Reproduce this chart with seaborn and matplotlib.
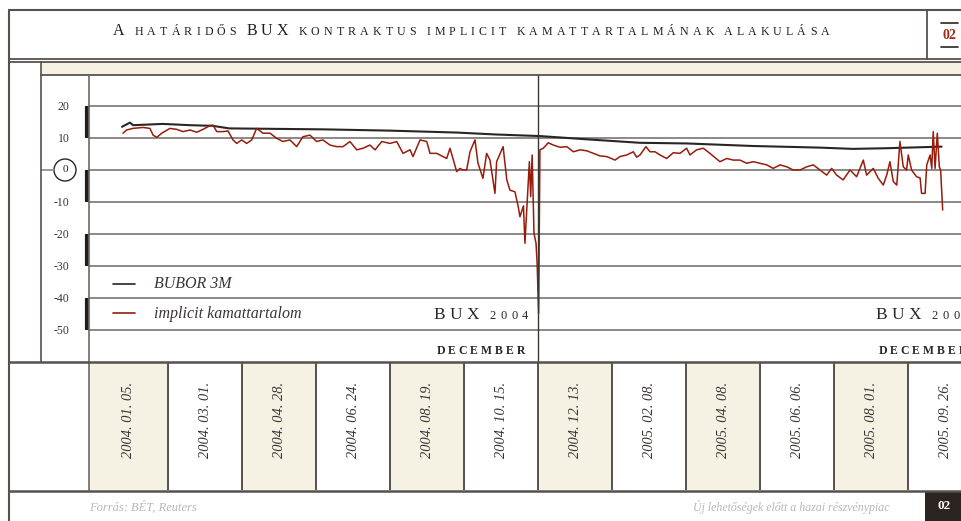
import numpy as np
import pandas as pd
import matplotlib
matplotlib.use('Agg')
import matplotlib.pyplot as plt
import matplotlib.transforms as mtrans
from matplotlib.lines import Line2D
from matplotlib.patches import Rectangle, Circle
import seaborn as sns

# ---- data (x = trading day since 2004.01.05, y = %) ----
TITLE = 'A határidős BUX kontraktus implicit kamattartalmának alakulása'
DATE_LABELS = ['2004. 01. 05.', '2004. 03. 01.', '2004. 04. 28.', '2004. 06. 24.',
               '2004. 08. 19.', '2004. 10. 15.', '2004. 12. 13.', '2005. 02. 08.',
               '2005. 04. 08.', '2005. 06. 06.', '2005. 08. 01.', '2005. 09. 26.']
Y_TICKS = [20, 10, 0, -10, -20, -30, -40, -50]
LEGEND_LABELS = ['BUBOR 3M', 'implicit kamattartalom']
EXPIRY_YEARS = ['2004', '2005']
EXPIRY_DAYS = [224.9, 463.8]

BUBOR_DAY = [0, 4.3, 6, 22, 37, 49, 58, 109, 145, 181, 202, 226, 251, 280, 305,
             341, 377, 395, 413, 431, 443]
BUBOR_VAL = [13.5, 14.8, 14.0, 14.4, 14.0, 13.8, 13.0, 12.7, 12.3, 11.7, 11.1, 10.6,
             9.6, 8.5, 8.3, 7.5, 7.0, 6.6, 6.8, 7.1, 7.3]

IMPL_DAY = [0.5, 2.5, 5.9, 11.4, 15.1, 16.8, 18.8, 21.5, 25.9, 29.6, 33.0, 36.8, 40.4,
            43.8, 47.6, 49.2, 51.2, 54.6, 57.3, 60.0, 62.0, 64.7, 67.4, 70.1, 72.8,
            76.2, 80.0, 83.6, 87.0, 90.8, 94.4, 97.8, 101.6, 105.2, 108.6, 112.4, 116.0,
            119.5, 123.2, 126.9, 130.3, 134.0, 136.8, 140.4, 144.9, 148.5, 151.9, 155.7,
            157.3, 161.1, 164.7, 166.5, 170.1, 173.5, 175.5, 177.3, 178.9, 180.9, 182.7,
            184.3, 186.3, 188.1, 190.8, 192.4, 195.1, 197.1, 198.9, 201.6, 202.5, 206.0,
            208.0, 209.7, 212.4, 214.2, 215.1, 217.0, 217.8, 220.2, 220.9, 221.7, 222.7,
            223.8, 224.4, 225.2, 225.9, 227.7, 230.4, 233.1, 236.8, 240.4, 244.0, 247.6,
            251.2, 254.8, 258.4, 262.0, 266.5, 269.2, 272.8, 276.4, 278.2, 280.0, 283.2,
            285.4, 288.1, 290.8, 294.4, 298.0, 301.6, 305.2, 307.0, 310.6, 314.2, 317.8,
            323.2, 326.9, 330.4, 334.0, 337.7, 341.2, 344.9, 348.5, 352.0, 355.7, 359.3,
            362.9, 366.5, 370.1, 373.7, 377.3, 380.9, 383.6, 386.3, 389.8, 393.5, 397.1,
            398.9, 400.7, 402.5, 406.1, 408.8, 411.5, 413.4, 415.1, 416.9, 418.8, 420.5,
            422.3, 424.1, 425.0, 426.8, 429.5, 431.4, 432.2, 434.1, 435.0, 436.8, 437.7,
            438.5, 439.5, 440.7, 441.8, 442.5, 443.6]
IMPL_VAL = [11.5, 12.5, 13.0, 13.3, 13.0, 10.9, 10.2, 11.5, 13.0, 12.7, 12.0, 12.5, 11.8,
            12.7, 13.9, 14.0, 12.0, 12.0, 12.2, 9.4, 8.3, 9.4, 8.3, 9.4, 13.0,
            11.5, 11.5, 9.9, 8.9, 9.4, 7.3, 10.4, 10.9, 8.9, 9.4, 7.8, 7.3,
            7.3, 8.9, 6.3, 6.8, 7.8, 6.3, 8.9, 8.3, 8.9, 5.2, 6.3,
            4.2, 9.4, 8.9, 5.2, 5.2, 4.2, 3.6, 6.8, 3.6, -0.5, 0.5,
            0.0, 0.0, 5.7, 9.4, 2.2, -2.6, 5.2, 3.1, -7.3, 2.6, 7.3,
            -3.1, -6.3, -6.8, -11.5, -14.6, -11.2, -22.9, 2.6, -8.3, 4.7, -19.8,
            -22.9, -29.2, -44.8, 6.3, 6.8, 8.5, 7.8, 7.1, 7.3, 5.7, 6.3,
            6.0, 5.2, 4.4, 4.2, 3.1, 4.2, 4.7, 5.7, 4.0, 4.7, 7.3,
            5.7, 5.7, 4.7, 3.6, 5.4, 5.2, 6.8, 4.7, 6.3, 6.8, 5.2,
            2.6, 3.6, 3.1, 3.1, 2.1, 2.6, 2.1, 1.6, 0.5, 1.6, 1.0,
            0.0, 0.0, 1.0, 1.6, 0.0, -1.6, 0.5, -1.6, -3.1, 0.0, -2.1,
            0.5, 3.1, -1.6, 0.5, -2.6, -4.7, -1.5, 2.6, -3.6, -4.7, 8.9,
            1.0, 0.0, 4.7, 0.0, -2.1, -2.5, -7.3, -7.3, 1.6, 4.7, 0.5,
            12.0, 0.5, 11.5, 1.0, 0.0, -12.5]

# ---- style ----
sns.set_style('white')
plt.rcParams['font.family'] = ['Liberation Serif', 'DejaVu Serif']

W, H = 962, 521
BEIGE = '#f5f1e3'
FRAME = '#57514e'
GRID = '#8c8885'
INK = '#2a2523'
RED = '#961c0c'

fig = plt.figure(figsize=(W / 100, H / 100), dpi=100)
fig.patch.set_facecolor('white')


def fx(x):
    return x / W


def fy(y):
    return 1 - y / H


def hline(y, x0, x1, color=FRAME, lw=1.2):
    fig.add_artist(Line2D([fx(x0), fx(x1)], [fy(y), fy(y)], color=color, lw=lw))


def vline(x, y0, y1, color=FRAME, lw=1.2):
    fig.add_artist(Line2D([fx(x), fx(x)], [fy(y0), fy(y1)], color=color, lw=lw))


def spaced(x, y, chars, track, gap, ha='left', color=INK, **kw):
    # draw letter-spaced text one glyph at a time
    r = fig.canvas.get_renderer()
    adv = []
    for ch, size in chars:
        if ch == ' ':
            adv.append(gap)
        else:
            t = fig.text(0, 0, ch, fontsize=size, **kw)
            adv.append(t.get_window_extent(r).width + track)
            t.remove()
    total = sum(adv) - track
    if ha == 'right':
        x = x - total
    for (ch, size), a in zip(chars, adv):
        if ch != ' ':
            fig.text(fx(x), fy(y), ch, fontsize=size, va='baseline', ha='left',
                     color=color, **kw)
        x += a


def smallcaps(s, big, small):
    return [(c.upper(), small if (c.islower() or c == ' ') else big) for c in s]


# ---- main plot ----
X0, X1 = (89 - 122) / 1.85, (962 - 122) / 1.85
ax = fig.add_axes([fx(89), fy(362), fx(962) - fx(89), (362 - 75) / H])
sns.lineplot(x=BUBOR_DAY, y=BUBOR_VAL, ax=ax, color='#2a2522', lw=1.5,
             estimator=None, sort=False)
sns.lineplot(x=IMPL_DAY, y=IMPL_VAL, ax=ax, color=RED, lw=1.1,
             estimator=None, sort=False)
ax.set_xlim(X0, X1)
ax.set_ylim(-60, (170 - 75) / 3.2)
ax.set_yticks(Y_TICKS)
ax.set_yticklabels(['' if v == 0 else str(v) for v in Y_TICKS])
ax.set_xticks([])
ax.tick_params(axis='y', length=0, pad=14, labelsize=8.5, labelcolor='#3a3533')
ax.grid(axis='y', color=GRID, lw=1.4)
ax.set_axisbelow(True)
for s in ax.spines.values():
    s.set_visible(False)
ax.set_xlabel('')
ax.set_ylabel('')
for d in EXPIRY_DAYS:
    ax.axvline(d, color='#3c3633', lw=1.0)

# thick marks on the axis
bt = mtrans.blended_transform_factory(ax.transAxes, ax.transData)
for a, b in zip(Y_TICKS[0::2], Y_TICKS[1::2]):
    ax.plot([-2 / 873, -2 / 873], [a, b], color='#231d1a', lw=3.0,
            transform=bt, clip_on=False, solid_capstyle='butt')

# circled zero
ident = mtrans.IdentityTransform()
fig.add_artist(Circle((65, H - 170), 11, transform=ident, fill=False,
                      edgecolor=INK, lw=1.0))
fig.text(fx(65), fy(170), '0', fontsize=8, ha='center', va='center', color=INK)
hline(170, 41, 54, color=GRID, lw=1.2)

# legend
for i, (lab, col) in enumerate(zip(LEGEND_LABELS, ['#2a2522', RED])):
    yy = 284 + i * 29
    fig.add_artist(Line2D([fx(113), fx(135)], [fy(yy), fy(yy)], color=col, lw=1.2))
    fig.text(fx(154), fy(yy + 4.5), lab, fontsize=11.5, style='italic',
             color='#3a3533', va='baseline')

# expiry labels (the 2005 one runs off the right edge, as in the original)
for yr, d in zip(EXPIRY_YEARS, EXPIRY_DAYS):
    px = 122 + 1.85 * d
    spaced(px - 10, 319, [(c, 12.5) for c in 'BUX'] + [(' ', 9)] + [(c, 9) for c in yr],
           track=4.5, gap=6, ha='right')
    spaced(px - 13, 354, [(c, 8.5) for c in 'DECEMBER'], track=3.0, gap=6,
           ha='right', fontweight='bold')

# ---- date strip ----
ax2 = fig.add_axes([fx(89), fy(490), fx(962) - fx(89), 128 / H])
ax2.set_xlim(X0, X1)
ax2.set_ylim(0, 1)
ax2.axis('off')
for k, lab in enumerate(DATE_LABELS):
    left = X0 if k == 0 else 24.9 + 40 * (k - 1)
    right = 24.9 + 40 * k
    if k % 2 == 0:
        ax2.axvspan(left, right, color=BEIGE, lw=0)
    ax2.axvline(right, color='#3a3330', lw=1.2)
    ax2.text((left + right) / 2, 0.547, lab, rotation=90, ha='center', va='center',
             fontsize=10.4, style='italic', color='#3a3533')

# ---- frame ----
hline(10, 9, 962, lw=1.5)
vline(9, 10, 521, lw=1.5)
hline(59, 9, 962, lw=1.3)
hline(61.5, 9, 962, lw=1.3)
vline(927, 10, 59, lw=1.3)
fig.add_artist(Rectangle((fx(41), fy(74)), fx(962) - fx(41), 12 / H, color=BEIGE, lw=0))
hline(74.5, 41, 962, lw=1.3)
vline(41, 61.5, 362, lw=1.2)
vline(89, 74.5, 490, color='#6e6864', lw=1.2)
hline(362, 9, 962, lw=1.8)
hline(490.5, 9, 962, lw=1.8)

# title
spaced(113, 35, smallcaps(TITLE, 11.5, 8.6), track=4.1, gap=6, color='#221e1c')

# page number
fig.text(fx(949.5), fy(35.5), '02', fontsize=10, fontweight='bold', color='#a52a1a',
         ha='center', va='center')
hline(23, 941, 958, color=INK, lw=1.2)
hline(47, 941, 958, color=INK, lw=1.2)

# footer
fig.text(fx(89), fy(511), 'Forrás: BÉT, Reuters', fontsize=9, style='italic',
         color='#b8b8b8', va='baseline')
fig.text(fx(890), fy(511), 'Új lehetőségek előtt a hazai részvénypiac', fontsize=8.6,
         style='italic', color='#b8b8b8', va='baseline', ha='right')
fig.add_artist(Rectangle((fx(925), fy(521)), fx(962) - fx(925), 29 / H,
                         color='#2b2421', lw=0))
fig.text(fx(944), fy(506), '02', fontsize=9.5, fontweight='bold', color='white',
         ha='center', va='center')

fig.savefig('out.png', dpi=100, facecolor='white')
